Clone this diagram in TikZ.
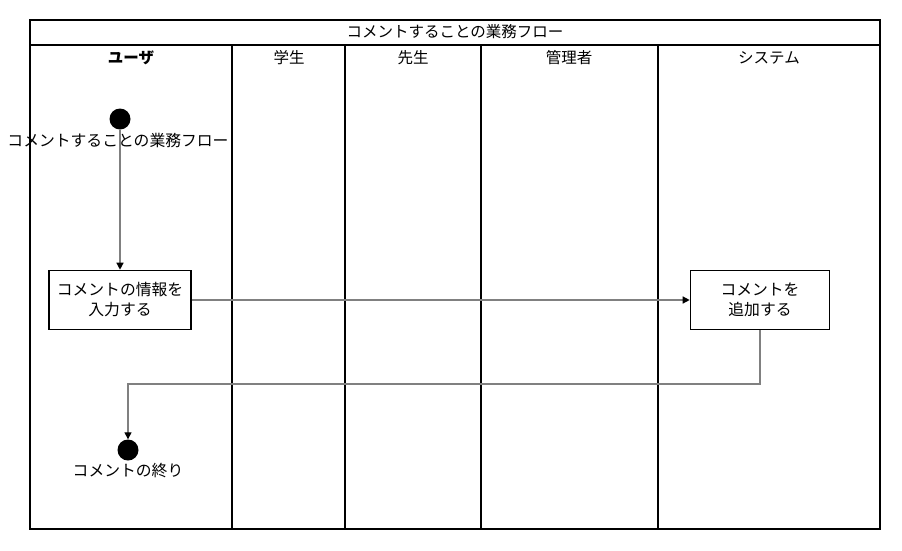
\documentclass[tikz,border=0pt]{standalone}
\usepackage{fontspec}
\setmainfont{Noto Sans CJK JP}
\usetikzlibrary{arrows.meta,positioning}
\definecolor{Flow}{HTML}{808080}

\begin{document}
\begin{tikzpicture}[x=1pt,y=-1pt,
    frame/.style={draw=black,line width=1.6pt},
    head/.style={font=\fontsize{15.5}{18}\selectfont,inner sep=0pt},
    act/.style={draw=black,line width=1.6pt,fill=white,align=center,
      minimum width=142pt,minimum height=59pt,inner sep=2pt,
      font=\fontsize{15.8}{20}\selectfont},
    dot/.style={circle,fill=black,minimum size=21pt,inner sep=0pt},
    lbl/.style={font=\fontsize{15.8}{18}\selectfont,inner sep=0pt},
    flow/.style={-{Triangle[length=7pt,width=7pt,color=black]},draw=Flow,line width=1.3pt}
]
\useasboundingbox (0,0) rectangle (902,550);
% swimlanes
\draw[frame] (30,20) rectangle (880,529);
\draw[frame] (30,45) -- (880,45);
\foreach \x in {232,345,481,658} \draw[frame] (\x,45) -- (\x,529);
\node[head] (title) at (455,32) {コメントすることの業務フロー};
\node[head,font=\fontsize{15.5}{18}\selectfont\bfseries] (user) at (131,58) {ユーザ};
\node[head] (student) at (289,58) {学生};
\node[head] (teacher) at (413,58) {先生};
\node[head] (admin) at (569,58) {管理者};
\node[head] (system) at (769,58) {システム};
% activities
\node[dot] (start) at (120,119) {};
\node[lbl] (startlbl) at (118,140) {コメントすることの業務フロー};
\node[act] (input) at (120,300) {コメントの情報を\\入力する};
\node[act,minimum width=139pt] (add) at (760,300) {コメントを\\追加する};
\node[dot] (finish) at (128,450) {};
\node[lbl] (finishlbl) at (128,471) {コメントの終り};
\coordinate (turn) at (760,384);
% flows
\draw[flow] (start) -- (input);
\draw[flow] (input) -- (add);
\draw[flow] (add) -- (turn) -| (finish);
\end{tikzpicture}
\end{document}
